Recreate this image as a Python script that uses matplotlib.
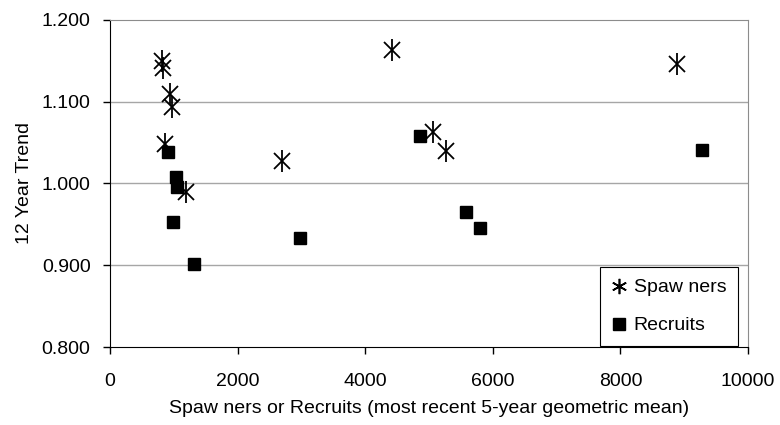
import matplotlib
matplotlib.use('Agg')
import matplotlib.pyplot as plt

plt.rcParams['font.family'] = ['Liberation Sans', 'DejaVu Sans']

# spawners: 5-year geometric mean and 12 year trend
spawn_x = [820, 835, 940, 967, 862, 1191, 2691, 4415, 5068, 5266, 8880]
spawn_y = [1.150, 1.141, 1.110, 1.094, 1.048, 0.990, 1.027, 1.163, 1.063, 1.040, 1.146]

# recruits
recr_x = [914, 1034, 1055, 992, 1317, 2978, 4859, 5580, 5799, 9274]
recr_y = [1.039, 1.008, 0.996, 0.953, 0.901, 0.933, 1.058, 0.965, 0.946, 1.041]

yticks = [0.800, 0.900, 1.000, 1.100, 1.200]
xticks = [0, 2000, 4000, 6000, 8000, 10000]

fig = plt.figure(figsize=(7.8, 4.25), dpi=100)
ax = fig.add_axes([0.141, 0.1835, 0.818, 0.7695])

for y in yticks[1:-1]:
    ax.axhline(y, color='#a6a6a6', lw=1.0, zorder=0)

# asterisk = x plus a vertical bar
ax.plot(spawn_x, spawn_y, ls='none', marker='x', ms=12, mew=1.3, color='black', zorder=3)
ax.plot(spawn_x, spawn_y, ls='none', marker='|', ms=16, mew=1.3, color='black', zorder=3)
ax.plot(recr_x, recr_y, ls='none', marker='s', ms=9, color='black', zorder=3)

# legend proxies
h1 = ax.plot([], [], ls='none', marker=(6, 2, 0), ms=11, mew=1.2, color='black')[0]
h2 = ax.plot([], [], ls='none', marker='s', ms=9, color='black')[0]
leg = ax.legend([h1, h2], ['Spaw ners', 'Recruits'], loc='lower right',
                bbox_to_anchor=(0.984, 0.003), borderaxespad=0, fontsize=14,
                fancybox=False, framealpha=1, edgecolor='black',
                handlelength=0.7, handletextpad=0.4, labelspacing=1.05,
                borderpad=0.6)
leg.get_frame().set_linewidth(0.8)

ax.set_xlim(0, 10000)
ax.set_ylim(0.8, 1.2)
ax.set_xticks(xticks)
ax.set_yticks(yticks)
ax.set_yticklabels(['%.3f' % v for v in yticks])
ax.tick_params(labelsize=14, length=5, width=1, direction='out', color='black')
ax.tick_params(axis='x', pad=14)
ax.tick_params(axis='y', pad=9)

ax.spines['top'].set_color('#8c8c8c')
ax.spines['right'].set_color('#8c8c8c')
ax.spines['left'].set_color('black')
ax.spines['bottom'].set_color('black')

ax.set_xlabel('Spaw ners or Recruits (most recent 5-year geometric mean)', fontsize=14, labelpad=7)
ax.set_ylabel('12 Year Trend', fontsize=14, labelpad=6)

fig.savefig('out.png', dpi=100)
